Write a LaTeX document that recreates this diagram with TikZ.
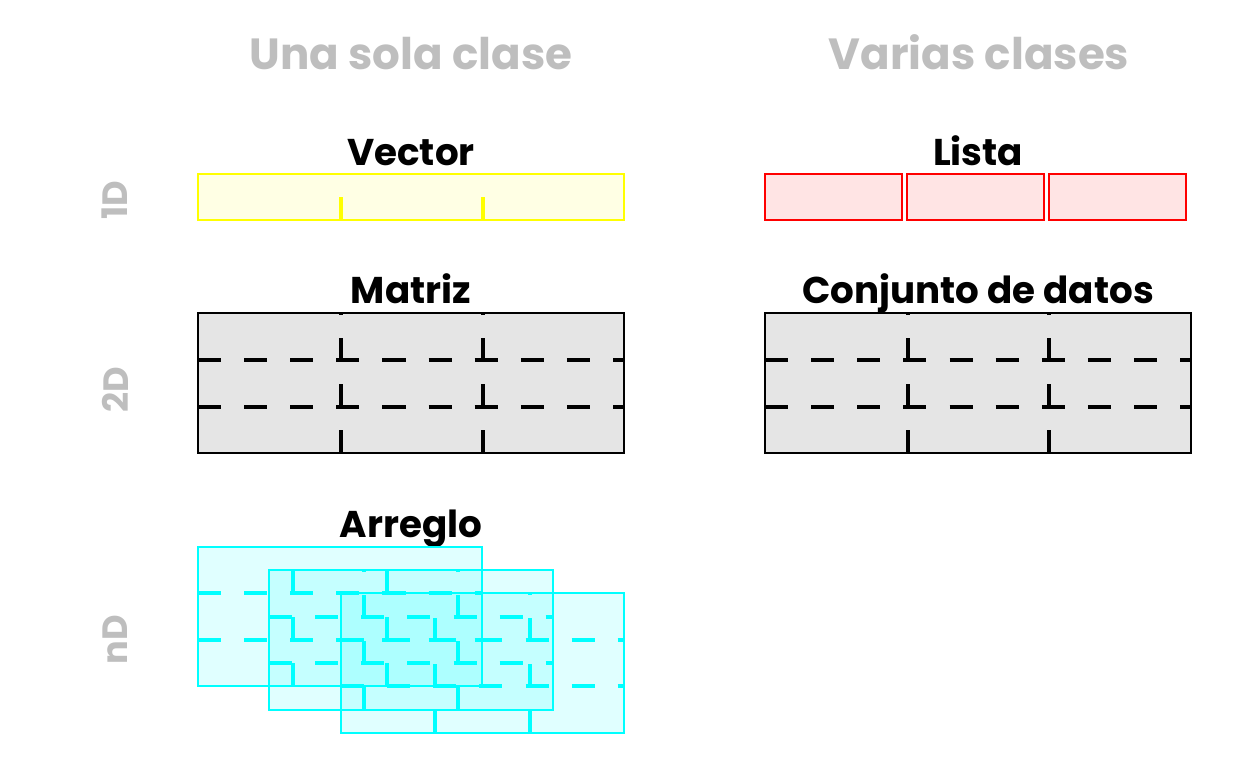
\documentclass[tikz,border=0pt]{standalone}
\usepackage{fontspec}
\setmainfont{Poppins}
\definecolor{grisclaro}{RGB}{190,190,190}
\definecolor{grisfondo}{RGB}{229,229,229}
\definecolor{amarillo}{RGB}{255,255,0}
\definecolor{amarilloclaro}{RGB}{255,255,228}
\definecolor{rojoclaro}{RGB}{255,228,228}
\definecolor{cian}{RGB}{0,255,255}
\begin{document}
\begin{tikzpicture}[x=0.025cm,y=-0.025cm]
\tikzset{titulo/.style = {text=grisclaro, font=\bfseries\fontsize{31}{34}\selectfont, anchor=base}}
\tikzset{nombre/.style = {font=\bfseries\fontsize{26.5}{30}\selectfont, anchor=base}}
\tikzset{dim/.style = {text=grisclaro, font=\bfseries\fontsize{25}{28}\selectfont, rotate=90}}
\tikzset{caja/.style = {line width=1.5pt}}
\tikzset{raya/.style = {line width=3.4pt, dash pattern=on 16.4pt off 16.4pt}}
\useasboundingbox (0,0) rectangle (1248,768);
% titles
\node[titulo] (una) at (411,70) {Una sola clase};
\node[titulo] (varias) at (979,70) {Varias clases};
\node[dim] (d1) at (115,200) {1D};
\node[dim] (d2) at (115,390) {2D};
\node[dim] (dn) at (115,640) {nD};
% names
\node[nombre] (vector) at (411,165) {Vector};
\node[nombre] (lista) at (978,165) {Lista};
\node[nombre] (matriz) at (411,303) {Matriz};
\node[nombre] (conjunto) at (978,303) {Conjunto de datos};
\node[nombre] (arreglo) at (411,537) {Arreglo};
% vector
\draw[caja, draw=amarillo, fill=amarilloclaro] (198,174) rectangle (624,220);
\draw[raya, amarillo] (341,220) -- (341,174);
\draw[raya, amarillo] (483,220) -- (483,174);
% lista
\draw[caja, draw=red, fill=rojoclaro] (765,174) rectangle (902,220);
\draw[caja, draw=red, fill=rojoclaro] (907,174) rectangle (1044,220);
\draw[caja, draw=red, fill=rojoclaro] (1049,174) rectangle (1186,220);
% matriz
\draw[caja, fill=grisfondo] (198,313) rectangle (624,453);
\draw[raya] (198,360) -- (624,360);
\draw[raya] (198,407) -- (624,407);
\draw[raya] (341,453) -- (341,313);
\draw[raya] (483,453) -- (483,313);
% conjunto de datos
\draw[caja, fill=grisfondo] (765,313) rectangle (1191,453);
\draw[raya] (765,360) -- (1191,360);
\draw[raya] (765,407) -- (1191,407);
\draw[raya] (908,453) -- (908,313);
\draw[raya] (1049,453) -- (1049,313);
% arreglo
\draw[caja, draw=cian, fill=cian, fill opacity=0.12] (198,547) rectangle (482,686);
\draw[raya, cian] (198,593) -- (482,593);
\draw[raya, cian] (198,640) -- (482,640);
\draw[raya, cian] (293,686) -- (293,547);
\draw[raya, cian] (387,686) -- (387,547);
\draw[caja, draw=cian, fill=cian, fill opacity=0.12] (269,570) rectangle (553,710);
\draw[raya, cian] (269,617) -- (553,617);
\draw[raya, cian] (269,663) -- (553,663);
\draw[raya, cian] (364,710) -- (364,570);
\draw[raya, cian] (458,710) -- (458,570);
\draw[caja, draw=cian, fill=cian, fill opacity=0.12] (341,593) rectangle (624,733);
\draw[raya, cian] (341,640) -- (624,640);
\draw[raya, cian] (341,686) -- (624,686);
\draw[raya, cian] (435,733) -- (435,593);
\draw[raya, cian] (530,733) -- (530,593);
\end{tikzpicture}
\end{document}
